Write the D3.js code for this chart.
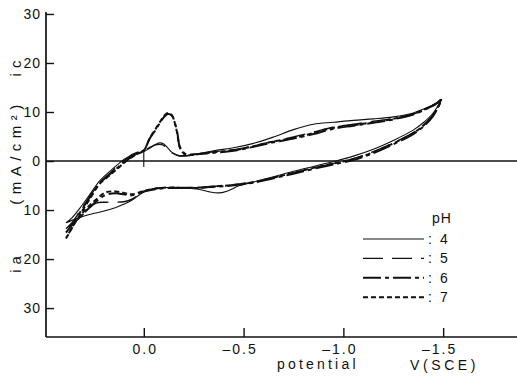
<!DOCTYPE html>
<html>
<head>
<meta charset="utf-8">
<script src="https://cdn.jsdelivr.net/npm/d3@7"></script>
<style>
  html, body { margin: 0; padding: 0; background: #fff; }
  svg { display: block; font-family: "Liberation Sans", Arial, Helvetica, sans-serif; }
</style>
</head>
<body>
<svg id="chart" width="517" height="380"></svg>
<script>
// Cyclic voltammograms at four pH values.
// Cathodic sweep (+0.39 V -> -1.49 V) and anodic return (-1.49 V -> +0.39 V).
const fwdV = [0.39, 0.36, 0.32, 0.27, 0.22, 0.17, 0.13, 0.10, 0.06, 0.03, 0.00,
  -0.03, -0.06, -0.08, -0.10, -0.12, -0.14, -0.16, -0.17, -0.18, -0.21, -0.25,
  -0.35, -0.45, -0.55, -0.65, -0.75, -0.85, -0.95, -1.05, -1.15, -1.25, -1.35,
  -1.42, -1.47, -1.49];
const retV = [-1.49, -1.45, -1.40, -1.35, -1.25, -1.15, -1.05, -0.95, -0.85, -0.75,
  -0.65, -0.55, -0.48, -0.42, -0.38, -0.33, -0.28, -0.20, -0.12, -0.05, 0.00,
  0.06, 0.10, 0.14, 0.19, 0.24, 0.29, 0.34, 0.39];

// current density, mA/cm² (cathodic positive, anodic negative)
const ph4Fwd = [-12.6, -11.6, -9.6, -6.8, -4.0, -2.1, -0.7, 0.3, 1.2, 1.6, 1.9,
  2.6, 3.4, 3.7, 3.5, 2.7, 1.8, 1.3, 1.1, 1.0, 1.0, 1.3,
  2.1, 2.7, 3.6, 4.9, 6.4, 7.5, 7.9, 8.3, 8.6, 9.0, 9.8, 10.9, 11.9, 12.5];
const ph4Ret = [12.5, 9.8, 7.8, 6.3, 4.2, 2.4, 1.0, -0.1, -1.1, -2.1,
  -3.2, -4.3, -5.0, -6.1, -6.5, -6.3, -5.8, -5.5, -5.4, -5.6, -6.3,
  -8.0, -8.8, -9.5, -10.1, -10.6, -11.1, -11.8, -12.6];

const ph5Fwd = [-13.8, -12.6, -10.2, -7.2, -4.4, -2.5, -1.0, 0.0, 1.3, 1.8, 2.0,
  2.8, 3.3, 3.4, 3.2, 2.4, 1.7, 1.3, 1.2, 1.1, 1.1, 1.3,
  1.9, 2.3, 3.1, 4.0, 4.9, 5.9, 6.9, 7.5, 8.1, 8.7, 9.6, 10.8, 11.9, 12.5];
const ph5Ret = [12.5, 9.5, 7.3, 5.8, 3.7, 1.9, 0.5, -0.5, -1.4, -2.4,
  -3.4, -4.3, -4.7, -5.0, -5.1, -5.2, -5.4, -5.4, -5.4, -5.7, -6.2,
  -7.8, -8.3, -8.4, -8.4, -8.6, -10.3, -12.3, -13.8];

const ph6Fwd = [-14.6, -13.0, -10.5, -7.4, -4.5, -2.7, -1.3, -0.3, 0.9, 1.6, 2.2,
  4.6, 6.4, 7.7, 8.9, 9.6, 9.3, 7.2, 5.3, 3.0, 1.4, 1.4,
  1.7, 2.1, 2.9, 3.8, 4.6, 5.5, 6.6, 7.2, 7.8, 8.5, 9.5, 10.7, 11.8, 12.5];
const ph6Ret = [12.5, 9.2, 7.0, 5.5, 3.4, 1.6, 0.2, -0.7, -1.6, -2.6,
  -3.5, -4.4, -4.8, -5.1, -5.2, -5.3, -5.4, -5.5, -5.5, -5.8, -6.2,
  -7.0, -6.8, -6.6, -6.9, -8.3, -10.2, -12.2, -14.6];

const ph7Fwd = [-15.8, -13.7, -10.9, -7.7, -4.6, -2.9, -1.5, -0.4, 0.8, 1.5, 2.1,
  4.7, 6.6, 7.9, 9.1, 9.8, 9.4, 7.0, 5.0, 2.8, 1.2, 1.3,
  1.8, 2.2, 3.0, 4.0, 4.7, 5.7, 6.8, 7.3, 7.9, 8.6, 9.6, 10.8, 11.8, 12.5];
const ph7Ret = [12.5, 9.4, 7.2, 5.7, 3.6, 1.8, 0.4, -0.5, -1.4, -2.4,
  -3.4, -4.3, -4.7, -5.0, -5.1, -5.3, -5.5, -5.5, -5.4, -5.7, -6.1,
  -6.8, -6.5, -6.2, -6.4, -7.9, -9.8, -12.3, -15.8];

// initial potential step at 0 V
const stepV = [0.0, 0.0];
const stepI = [-1.2, 2.2];

const phLabels = ["4", "5", "6", "7"];
const xTicks = [0.0, -0.5, -1.0, -1.5];
const yTicks = [30, 20, 10, 0, -10, -20, -30];

const svg = d3.select("#chart");
const ink = "#111";

const x = d3.scaleLinear().domain([0.49, -1.87]).range([46, 517]);
const y = d3.scaleLinear().domain([-35.9, 30.4]).range([337, 12]);

// axes
const xAxis = d3.axisBottom(x)
  .tickValues(xTicks)
  .tickSizeInner(-9).tickSizeOuter(0).tickPadding(7)
  .tickFormat(v => (v < 0 ? "\u2013" : "") + d3.format(".1f")(Math.abs(v)));
const gx = svg.append("g").attr("transform", `translate(0,${y(-35.9)})`).call(xAxis);
gx.select(".domain").remove();
gx.selectAll(".tick line").attr("stroke", ink).attr("stroke-width", 1.4);
gx.selectAll(".tick text")
  .attr("fill", ink).attr("font-size", 14).attr("letter-spacing", 2)
  .attr("font-family", "'Liberation Sans', Arial, sans-serif")
  .attr("dx", d => d < 0 ? -4 : 1);

const yAxis = d3.axisLeft(y)
  .tickValues(yTicks)
  .tickSizeInner(-8).tickSizeOuter(0).tickPadding(5)
  .tickFormat(v => String(Math.abs(v)));
const gy = svg.append("g").attr("transform", `translate(${x(0.49)},0)`).call(yAxis);
gy.select(".domain").remove();
gy.selectAll(".tick line").attr("stroke", ink).attr("stroke-width", 1.4);
gy.selectAll(".tick text")
  .attr("fill", ink).attr("font-size", 14).attr("letter-spacing", 1)
  .attr("font-family", "'Liberation Sans', Arial, sans-serif");

// frame lines: left axis, bottom axis, zero line
svg.append("line")
  .attr("x1", x(0.49)).attr("x2", x(0.49)).attr("y1", y(30.4)).attr("y2", y(-35.9))
  .attr("stroke", ink).attr("stroke-width", 1.7);
svg.append("line")
  .attr("x1", x(0.49)).attr("x2", x(-1.87)).attr("y1", y(-35.9)).attr("y2", y(-35.9))
  .attr("stroke", ink).attr("stroke-width", 1.7);
svg.append("line")
  .attr("x1", x(0.49)).attr("x2", x(-1.87)).attr("y1", y(0)).attr("y2", y(0))
  .attr("stroke", ink).attr("stroke-width", 1.5);

// axis titles
const yTitle = [
  { t: "ia", at: 262, ls: 5 },
  { t: "(mA/cm\u00B2)", at: 152, ls: 5.5 },
  { t: "ic", at: 66, ls: 5 }
];
yTitle.forEach(d => {
  svg.append("text")
    .attr("transform", `translate(15,${d.at}) rotate(-90)`)
    .attr("text-anchor", "middle").attr("dominant-baseline", "central")
    .attr("font-size", 15).attr("letter-spacing", d.ls).attr("fill", ink)
    .text(d.t);
});
svg.append("text").attr("x", 277).attr("y", 369)
  .attr("font-size", 14).attr("letter-spacing", 3.2).attr("fill", ink).text("potential");
svg.append("text").attr("x", 410).attr("y", 370)
  .attr("font-size", 14).attr("letter-spacing", 3.6).attr("fill", ink).text("V(SCE)");

// voltammograms
const series = [
  { ph: phLabels[0], fwd: ph4Fwd, ret: ph4Ret, dash: null, w: 1.1 },
  { ph: phLabels[1], fwd: ph5Fwd, ret: ph5Ret, dash: "20,9", w: 1.4 },
  { ph: phLabels[2], fwd: ph6Fwd, ret: ph6Ret, dash: "18,4,4,4", w: 2.0 },
  { ph: phLabels[3], fwd: ph7Fwd, ret: ph7Ret, dash: "5,3", w: 2.0 }
];

const line = d3.line()
  .x(d => x(d[0])).y(d => y(d[1]))
  .curve(d3.curveCatmullRom.alpha(0.5));

series.forEach(s => {
  const pts = fwdV.map((v, i) => [v, s.fwd[i]])
    .concat(retV.slice(1).map((v, i) => [v, s.ret[i + 1]]));
  svg.append("path")
    .attr("d", line(pts))
    .attr("fill", "none").attr("stroke", ink)
    .attr("stroke-width", s.w)
    .attr("stroke-dasharray", s.dash)
    .attr("stroke-linejoin", "round");
});

svg.append("path")
  .attr("d", d3.line().x(d => x(d[0])).y(d => y(d[1]))(stepV.map((v, i) => [v, stepI[i]])))
  .attr("fill", "none").attr("stroke", ink).attr("stroke-width", 1.1);

// legend
const lg = svg.append("g");
lg.append("text").attr("x", 432).attr("y", 223)
  .attr("font-size", 14).attr("letter-spacing", 1).attr("fill", ink).text("pH");
series.forEach((s, i) => {
  const ly = 239 + i * 19.4;
  lg.append("line")
    .attr("x1", 363).attr("x2", 424).attr("y1", ly).attr("y2", ly)
    .attr("stroke", ink).attr("stroke-width", s.w)
    .attr("stroke-dasharray", s.dash);
  lg.append("text").attr("x", 428).attr("y", ly + 5)
    .attr("font-size", 14).attr("fill", ink).text(":");
  lg.append("text").attr("x", 440).attr("y", ly + 5)
    .attr("font-size", 14).attr("fill", ink).text(s.ph);
});
</script>
</body>
</html>
